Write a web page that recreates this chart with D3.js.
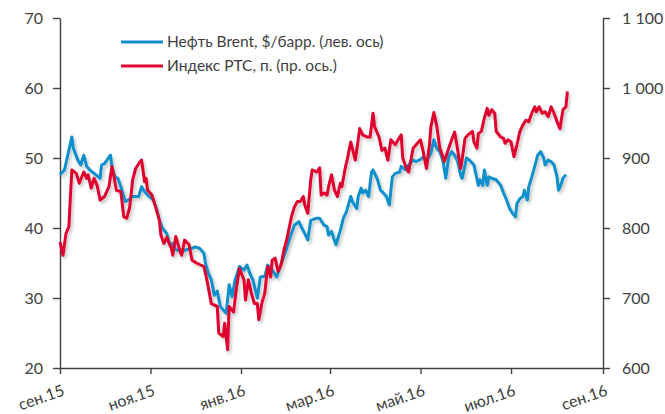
<!DOCTYPE html>
<html><head><meta charset="utf-8">
<script src="https://cdn.jsdelivr.net/npm/d3@7"></script>
<style>body{margin:0;background:#fff}svg{display:block}text{font-family:Lato,"Open Sans",sans-serif;fill:#404040}</style>
</head><body><svg id="c" width="665" height="414"></svg>
<script>
const brentDates = ["2015-09-01","2015-09-04","2015-09-09","2015-09-10","2015-09-13","2015-09-15","2015-09-17","2015-09-19","2015-09-21","2015-09-24","2015-09-28","2015-09-29","2015-10-01","2015-10-05","2015-10-06","2015-10-08","2015-10-10","2015-10-12","2015-10-15","2015-10-17","2015-10-20","2015-10-24","2015-10-26","2015-10-28","2015-10-30","2015-11-03","2015-11-05","2015-11-07","2015-11-09","2015-11-12","2015-11-14","2015-11-16","2015-11-18","2015-11-22","2015-11-25","2015-11-28","2015-12-01","2015-12-04","2015-12-07","2015-12-08","2015-12-10","2015-12-12","2015-12-14","2015-12-16","2015-12-18","2015-12-20","2015-12-22","2015-12-24","2015-12-26","2015-12-28","2015-12-31","2016-01-03","2016-01-05","2016-01-07","2016-01-09","2016-01-12","2016-01-14","2016-01-17","2016-01-19","2016-01-22","2016-01-25","2016-01-27","2016-01-31","2016-02-02","2016-02-04","2016-02-06","2016-02-09","2016-02-11","2016-02-13","2016-02-15","2016-02-17","2016-02-21","2016-02-23","2016-02-26","2016-02-28","2016-02-29","2016-03-02","2016-03-05","2016-03-08","2016-03-10","2016-03-12","2016-03-15","2016-03-16","2016-03-19","2016-03-20","2016-03-22","2016-03-23","2016-03-25","2016-03-27","2016-03-29","2016-03-30","2016-04-02","2016-04-04","2016-04-06","2016-04-08","2016-04-10","2016-04-12","2016-04-14","2016-04-17","2016-04-18","2016-04-21","2016-04-23","2016-04-26","2016-04-28","2016-05-01","2016-05-03","2016-05-05","2016-05-08","2016-05-10","2016-05-12","2016-05-14","2016-05-16","2016-05-18","2016-05-20","2016-05-22","2016-05-24","2016-05-26","2016-05-28","2016-05-29","2016-05-31","2016-06-01","2016-06-03","2016-06-06","2016-06-07","2016-06-09","2016-06-10","2016-06-12","2016-06-13","2016-06-15","2016-06-16","2016-06-18","2016-06-21","2016-06-24","2016-06-26","2016-06-28","2016-06-30","2016-07-02","2016-07-04","2016-07-05","2016-07-07","2016-07-09","2016-07-10","2016-07-12","2016-07-13","2016-07-15","2016-07-17","2016-07-19","2016-07-21","2016-07-23","2016-07-24","2016-07-26","2016-07-28","2016-07-30","2016-08-01","2016-08-02","2016-08-04","2016-08-05","2016-08-07"];
const brentValues = [47.6,48.3,53.0,51.4,49.7,49.0,50.4,48.8,48.3,47.8,47.1,49.0,49.2,50.4,48.8,47.3,47.1,45.9,43.8,44.0,44.5,44.5,45.9,45.2,44.7,44.0,42.8,41.1,40.0,39.2,37.6,37.8,36.9,36.6,36.9,37.0,37.3,37.1,36.4,35.0,33.5,32.6,30.4,31.0,28.8,28.3,27.8,31.9,30.2,32.6,34.5,34.0,34.7,33.5,32.6,30.0,33.0,33.1,34.7,34.0,33.0,34.2,36.6,38.0,39.2,40.4,40.9,40.0,39.2,38.3,41.1,41.4,41.4,40.4,40.2,39.0,39.5,37.6,39.7,41.4,42.3,44.5,43.8,42.8,44.5,45.7,45.0,45.4,44.5,48.0,48.3,46.9,45.4,45.0,44.5,43.3,47.3,47.8,48.0,48.8,48.3,49.0,49.7,49.5,49.8,50.2,49.5,50.7,52.6,51.4,50.9,49.7,47.1,50.2,50.9,50.4,49.5,47.6,47.1,49.0,50.0,49.7,49.0,48.0,46.1,46.9,46.1,48.3,46.1,47.3,47.1,46.9,46.1,45.0,44.0,42.8,42.1,41.6,43.5,44.2,44.5,45.4,44.0,45.9,47.3,48.8,50.4,50.9,50.0,49.0,49.7,49.5,49.0,47.3,45.4,46.4,47.1,47.6];
const rtsDates = ["2015-09-01","2015-09-03","2015-09-05","2015-09-07","2015-09-08","2015-09-09","2015-09-12","2015-09-14","2015-09-17","2015-09-19","2015-09-20","2015-09-22","2015-09-24","2015-09-26","2015-09-28","2015-10-01","2015-10-04","2015-10-06","2015-10-07","2015-10-09","2015-10-12","2015-10-14","2015-10-16","2015-10-18","2015-10-20","2015-10-22","2015-10-25","2015-10-26","2015-10-28","2015-10-29","2015-10-30","2015-11-02","2015-11-04","2015-11-07","2015-11-08","2015-11-10","2015-11-12","2015-11-15","2015-11-16","2015-11-18","2015-11-21","2015-11-22","2015-11-24","2015-11-27","2015-11-29","2015-12-02","2015-12-07","2015-12-09","2015-12-12","2015-12-16","2015-12-17","2015-12-20","2015-12-21","2015-12-23","2015-12-24","2015-12-27","2015-12-29","2015-12-31","2016-01-03","2016-01-04","2016-01-06","2016-01-08","2016-01-10","2016-01-12","2016-01-13","2016-01-15","2016-01-17","2016-01-19","2016-01-21","2016-01-22","2016-01-24","2016-01-26","2016-01-28","2016-01-30","2016-02-01","2016-02-04","2016-02-06","2016-02-08","2016-02-10","2016-02-12","2016-02-13","2016-02-15","2016-02-17","2016-02-18","2016-02-21","2016-02-23","2016-02-24","2016-02-26","2016-02-28","2016-02-29","2016-03-02","2016-03-04","2016-03-06","2016-03-08","2016-03-09","2016-03-11","2016-03-13","2016-03-15","2016-03-16","2016-03-18","2016-03-19","2016-03-21","2016-03-23","2016-03-26","2016-03-28","2016-03-30","2016-03-31","2016-04-03","2016-04-05","2016-04-07","2016-04-09","2016-04-11","2016-04-14","2016-04-17","2016-04-18","2016-04-19","2016-04-21","2016-04-23","2016-04-26","2016-04-28","2016-05-01","2016-05-03","2016-05-05","2016-05-07","2016-05-08","2016-05-10","2016-05-12","2016-05-14","2016-05-16","2016-05-17","2016-05-20","2016-05-22","2016-05-24","2016-05-26","2016-05-28","2016-05-29","2016-05-31","2016-06-02","2016-06-05","2016-06-06","2016-06-08","2016-06-09","2016-06-11","2016-06-13","2016-06-15","2016-06-16","2016-06-18","2016-06-20","2016-06-21","2016-06-24","2016-06-26","2016-06-27","2016-06-29","2016-07-01","2016-07-03","2016-07-05","2016-07-07","2016-07-09","2016-07-11","2016-07-13","2016-07-15","2016-07-17","2016-07-18","2016-07-20","2016-07-22","2016-07-24","2016-07-26","2016-07-28","2016-07-30","2016-08-01","2016-08-03","2016-08-05","2016-08-07","2016-08-08"];
const rtsValues = [780,761,792,802,845,883,878,864,880,871,876,857,871,861,840,845,859,888,878,854,852,816,814,830,869,885,895,897,866,871,854,847,833,811,790,778,787,771,761,788,766,761,783,776,754,750,745,726,692,688,650,645,664,626,688,680,716,742,726,697,726,707,692,692,669,692,707,745,730,754,757,738,747,769,785,816,830,838,838,845,833,821,869,883,880,886,847,850,847,859,876,854,845,864,859,883,902,923,914,897,911,942,933,930,930,964,945,930,911,914,897,926,919,930,933,900,888,880,914,919,926,907,885,919,945,965,945,914,902,895,914,926,937,912,885,897,928,933,938,923,914,935,938,957,971,961,969,964,938,930,928,921,926,923,902,919,938,947,954,952,964,973,966,973,964,966,959,973,964,952,942,969,973,995];
const xTickDates = ["2015-09-01","2015-11-01","2016-01-01","2016-03-01","2016-05-01","2016-07-01","2016-09-01"];
const xTickLabels = ["сен.15","ноя.15","янв.16","мар.16","май.16","июл.16","сен.16"];
const leftTicks = [20,30,40,50,60,70];
const rightTicks = [600,700,800,900,1000,1100];
const seriesNames = ["Нефть Brent, $/барр. (лев. ось)","Индекс РТС, п. (пр. ось.)"];
const seriesColors = ["#0F8FCB","#E0062F"];

const parse = d3.timeParse("%Y-%m-%d");
const svg = d3.select("#c");
const L = 60, R = 603, T = 18, B = 368;
const x = d3.scaleTime().domain([parse("2015-09-01"), parse("2016-09-01")]).range([L, R]);
const yL = d3.scaleLinear().domain([20, 70]).range([B, T]);
const yR = d3.scaleLinear().domain([600, 1100]).range([B, T]);

const defs = svg.append("defs");
const f = defs.append("filter").attr("id","sh").attr("x","-5%").attr("y","-5%").attr("width","110%").attr("height","110%");
f.append("feDropShadow").attr("dx",2).attr("dy",2.5).attr("stdDeviation",1.5).attr("flood-color","#000").attr("flood-opacity",0.22);

const axisColor = "#404040";
function styleAxis(g){
  g.selectAll("path,line").attr("stroke", axisColor).attr("stroke-width", 1.4);
  g.selectAll("text").attr("fill", "#404040").style("font-size","16px").style("font-family","Lato, 'Open Sans', sans-serif");
}
const gl = svg.append("g").attr("transform",`translate(${L},0)`)
  .call(d3.axisLeft(yL).tickValues(leftTicks).tickSize(7).tickSizeOuter(0).tickPadding(10).tickFormat(d3.format("d")));
styleAxis(gl);
const fmtR = v => d3.format(",")(v).replace(",", " ");
const gr = svg.append("g").attr("transform",`translate(${R},0)`)
  .call(d3.axisRight(yR).tickValues(rightTicks).tickSize(7).tickSizeOuter(0).tickPadding(12).tickFormat(fmtR));
styleAxis(gr);
const gb = svg.append("g").attr("transform",`translate(0,${B})`)
  .call(d3.axisBottom(x).tickValues(xTickDates.map(parse)).tickSize(6).tickSizeOuter(0).tickFormat(""));
styleAxis(gb);
gb.selectAll(".tick").append("text")
  .text((d,i) => xTickLabels[i])
  .attr("text-anchor","end")
  .attr("transform","translate(5,27) rotate(-19)")
  .attr("fill","#404040").style("font-size","16px");

const lineL = d3.line().x(d => x(d[0])).y(d => yL(d[1]));
const lineR = d3.line().x(d => x(d[0])).y(d => yR(d[1]));
const brent = brentDates.map((d,i) => [parse(d), brentValues[i]]);
const rts = rtsDates.map((d,i) => [parse(d), rtsValues[i]]);
const gLines = svg.append("g").attr("filter","url(#sh)");
gLines.append("path").datum(brent).attr("d", lineL).attr("fill","none").attr("stroke",seriesColors[0]).attr("stroke-width",3).attr("stroke-linejoin","round");
gLines.append("path").datum(rts).attr("d", lineR).attr("fill","none").attr("stroke",seriesColors[1]).attr("stroke-width",3).attr("stroke-linejoin","round");

const leg = svg.append("g");
seriesNames.forEach((n,i) => {
  const yy = 42 + i*24;
  leg.append("line").attr("x1",121).attr("x2",163).attr("y1",yy).attr("y2",yy).attr("stroke",seriesColors[i]).attr("stroke-width",3);
  leg.append("text").attr("x",167).attr("y",yy+5).text(n).style("font-size","15.5px");
});
</script></body></html>
